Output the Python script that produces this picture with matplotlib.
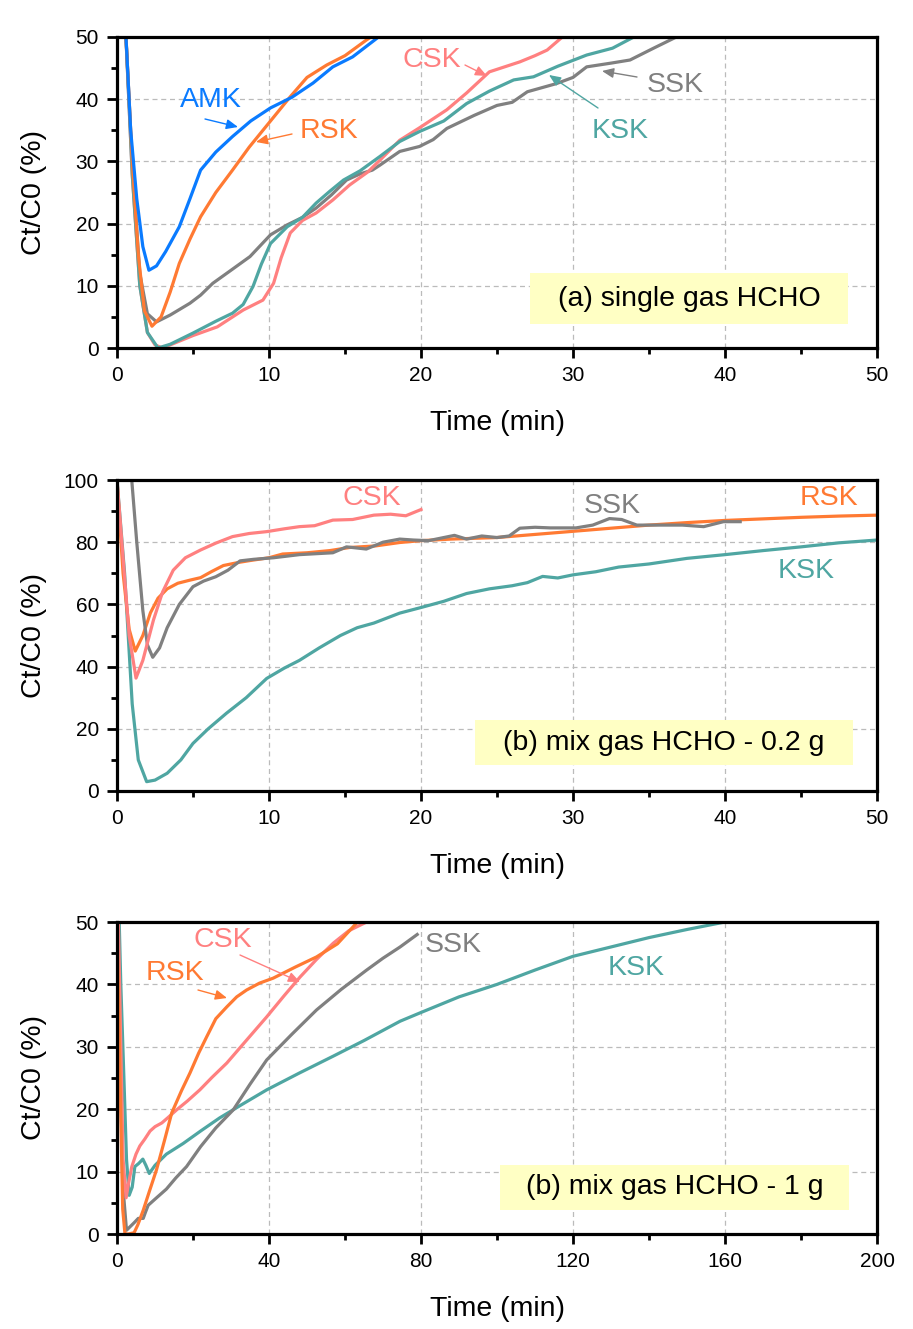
import numpy as np
import matplotlib
matplotlib.use("Agg")
import matplotlib.pyplot as plt
from matplotlib.ticker import MultipleLocator
from matplotlib.patches import Rectangle

plt.rcParams['font.family'] = ['Liberation Sans', 'DejaVu Sans']

# couleurs
c_amk = '#0A7BFF'
c_rsk = '#FF7A33'
c_csk = '#FF8080'
c_ssk = '#808080'
c_ksk = '#4FA6A2'

# (a) single gas HCHO
a_amk_x = [0.55, 0.9, 1.3, 1.7, 2.1, 2.6, 3.2, 4.1, 4.8, 5.5, 6.5, 7.6, 8.8, 10.1, 11.5, 12.9, 14.2, 15.5, 17.1, 17.6]
a_amk_y = [52, 35, 24, 16.3, 12.5, 13.2, 15.5, 19.5, 24, 28.6, 31.5, 34, 36.5, 38.6, 40.3, 42.6, 45.2, 46.8, 49.8, 51]
a_rsk_x = [0.55, 1.0, 1.4, 1.8, 2.3, 2.9, 3.5, 4.1, 4.8, 5.5, 6.5, 7.6, 8.7, 9.8, 11.4, 12.5, 13.8, 15, 16.4, 17.3]
a_rsk_y = [52, 30, 15, 6, 3.5, 5, 9, 13.6, 17.5, 21.1, 25, 28.6, 32.3, 35.6, 40.4, 43.5, 45.5, 47, 49.5, 51]
a_csk_x = [0.55, 1.0, 1.5, 2.0, 2.5, 3.0, 4.0, 5.0, 6.6, 8.3, 9.6, 10.3, 10.8, 11.4, 12.2, 13.1, 14.2, 15.3, 16.5,
           17.3, 18.6, 19.9, 21.7, 23, 24.5, 25.5, 26.5, 27.5, 28.3, 29.3, 29.6]
a_csk_y = [52, 28, 10, 2.5, 0.5, 0, 1, 2, 3.4, 6.1, 7.7, 10.4, 14.5, 18.5, 20.5, 21.7, 23.8, 26.2, 28.3,
           30.2, 33.4, 35.4, 38.3, 41, 44.4, 45.2, 46, 47, 47.9, 50, 51]
a_ksk_x = [0.55, 1.0, 1.5, 2.0, 2.7, 3.5, 5.0, 6.5, 7.6, 8.3, 8.95, 9.5, 10.1, 11.2, 12.2, 13.1, 14.0, 14.9, 16,
           17.3, 18.6, 19.9, 21.5, 23, 24.5, 26.1, 27.4, 29, 30.9, 32.6, 34, 34.3]
a_ksk_y = [52, 28, 10, 2.5, 0, 0.6, 2.4, 4.3, 5.6, 7, 9.9, 13.5, 16.8, 19.5, 21, 23.3, 25.2, 27, 28.5,
           30.8, 33.2, 34.8, 36.5, 39.3, 41.3, 43.1, 43.6, 45.3, 47.1, 48.2, 50, 51]
a_ssk_x = [0.55, 1.0, 1.5, 2.0, 2.6, 3.5, 4.8, 5.5, 6.3, 7.5, 8.75, 10.1, 11.2, 12.2, 13.1, 14.1, 15.1, 16, 16.8,
           17.3, 18.6, 19.9, 20.8, 21.7, 23.5, 25, 26, 27, 28.9, 30, 30.9, 32.5, 33.75, 35.3, 36.8, 37.2]
a_ssk_y = [52, 30, 12, 5.5, 4.2, 5.3, 7.2, 8.5, 10.4, 12.5, 14.7, 18.2, 19.8, 21, 22.5, 24.6, 27, 28, 28.6,
           29.4, 31.6, 32.4, 33.5, 35.3, 37.4, 39, 39.5, 41.2, 42.5, 43.5, 45.2, 45.8, 46.3, 48.2, 50, 51]

# (b) mix gas HCHO - 0.2 g
b_ksk_x = [0, 0.5, 1.0, 1.4, 1.95, 2.5, 3.3, 4.2, 5, 6, 7.2, 8.5, 9.85, 11, 12, 13.3, 14.7, 15.8, 16.9, 18.6,
           20, 21.5, 23, 24.5, 26, 27, 28, 29, 30, 31.5, 33, 35, 37.5, 40, 42.5, 45, 47.5, 50]
b_ksk_y = [100, 70, 28, 10, 3, 3.5, 5.7, 10, 15.3, 20, 25, 30, 36.2, 39.5, 42, 46, 50, 52.5, 54, 57.2,
           59, 61, 63.5, 65, 66, 67, 69, 68.5, 69.5, 70.5, 72, 73, 74.8, 76, 77.3, 78.5, 79.8, 80.7]
b_csk_x = [0, 0.4, 0.8, 1.25, 1.7, 2.4, 3.0, 3.7, 4.5, 5.5, 6.5, 7.6, 8.7, 9.85, 11, 12, 13, 14.2, 15.5, 16.9,
           18, 19, 20]
b_csk_y = [100, 75, 50, 36.3, 42, 55, 64, 71, 75, 77.5, 79.7, 81.8, 82.8, 83.4, 84.3, 85, 85.3, 87.1, 87.3, 88.7,
           89, 88.5, 90.5]
b_rsk_x = [0, 0.4, 0.8, 1.2, 1.7, 2.2, 2.7, 3.3, 4.0, 4.8, 5.5, 6.2, 7, 8, 8.75, 10, 10.9, 12.5, 14, 15.3, 17,
           18.6, 20, 22, 25, 27.5, 30, 32.5, 35, 37.5, 40, 42.5, 45, 47.5, 50]
b_rsk_y = [100, 70, 52, 45, 50, 57.3, 62, 65, 66.8, 67.8, 68.6, 70.5, 72.5, 73.5, 74.1, 75, 76.2, 76.6, 77.3, 78.3,
           78.8, 79.9, 80.5, 81, 81.5, 82.5, 83.5, 84.5, 85.5, 86.3, 87, 87.5, 88, 88.4, 88.7]
b_ssk_x = [0.97, 1.3, 1.7, 2.0, 2.35, 2.8, 3.3, 4.1, 5, 5.7, 6.5, 7.3, 8.1, 9, 10.3, 12, 14.2, 15.1, 16.4, 17.5,
           18.6, 19.5, 20.5, 21.5, 22.2, 23, 24, 25, 25.8, 26.5, 27.5, 28.5, 30.2, 31.3, 32.4, 33.2, 34.2, 35.5,
           37.2, 38.6, 39.9, 41]
b_ssk_y = [100, 80, 58, 47, 43, 46, 52.5, 60, 65.7, 67.5, 68.9, 71, 74, 74.5, 75, 76, 76.6, 78.5, 77.8, 80,
           81, 80.7, 80.5, 81.5, 82.2, 81, 82, 81.5, 82, 84.5, 84.8, 84.6, 84.6, 85.5, 87.6, 87.3, 85.5, 85.5,
           85.5, 85, 86.6, 86.6]

# (b) mix gas HCHO - 1 g
c_ksk_x = [0.5, 1.0, 1.8, 2.5, 3.2, 4.0, 4.7, 5.7, 6.8, 7.6, 8.5, 10, 13, 17.4, 22, 27, 33, 39.4, 48, 56.9,
           65, 74.5, 80, 90, 100, 110, 120, 130, 140, 150, 160, 162]
c_ksk_y = [52, 40, 25.3, 12, 6.2, 7.5, 10.8, 11.3, 12, 11, 9.7, 11, 12.8, 14.5, 16.5, 18.6, 20.8, 23.1, 25.8, 28.5,
           31, 34.1, 35.5, 38, 40, 42.3, 44.5, 46, 47.5, 48.8, 50, 50.2]
c_ssk_x = [0, 0.8, 1.5, 2.5, 3.5, 4.5, 5.6, 6.9, 7.5, 8.2, 10.4, 13, 15.5, 18.3, 22, 26, 30.6, 35, 39.4, 46,
           52.5, 59, 65.7, 70, 74.5, 79]
c_ssk_y = [50, 30, 8, 0.6, 1.2, 1.8, 2.5, 2.5, 3.5, 4.6, 5.8, 7.2, 9, 10.8, 14, 17, 19.9, 24, 27.9, 32,
           35.9, 39.2, 42.3, 44.2, 46, 48]
c_rsk_x = [0, 0.8, 1.5, 2.1, 3, 4.5, 5.5, 6.9, 8.5, 10.4, 12.5, 14.4, 17, 19.2, 21.5, 23.6, 26, 28.9, 31.5, 34.1,
           37.5, 41.1, 47, 52.5, 58, 63, 65.5]
c_rsk_y = [50, 25, 4, 0, 0, 0.2, 1.5, 3.8, 6.8, 10.3, 15, 19.4, 23, 25.8, 29, 31.6, 34.5, 36.4, 38, 39.1,
           40.2, 41, 42.8, 44.4, 46.5, 49.8, 51]
c_csk_x = [0.3, 1.0, 1.6, 2.4, 3.0, 3.9, 5, 6, 7.3, 8.7, 10, 11.8, 13.5, 15.7, 18.5, 21.8, 25, 28.9, 34, 39.4,
           44, 48.2, 52.5, 56.9, 61, 65.7, 67]
c_csk_y = [52, 30, 12, 5.8, 8, 10.8, 12.8, 14.1, 15.2, 16.5, 17.2, 17.8, 18.7, 19.9, 21.3, 23.1, 25.1, 27.4, 31, 34.8,
           38.2, 41.2, 44, 46.6, 48.6, 50, 50.6]

W, H = 913, 1329
fig = plt.figure(figsize=(W / 100, H / 100), dpi=100)

left = 117 / W
width = (877 - 117) / W
lw = 2.3
fs = 20.5


def make_axes(top_px, bot_px, xlim, ylim, xmaj, xmin, ymaj, ymin):
    ax = fig.add_axes([left, 1 - bot_px / H, width, (bot_px - top_px) / H])
    ax.set_xlim(*xlim)
    ax.set_ylim(*ylim)
    ax.xaxis.set_major_locator(MultipleLocator(xmaj))
    ax.xaxis.set_minor_locator(MultipleLocator(xmin))
    ax.yaxis.set_major_locator(MultipleLocator(ymaj))
    ax.yaxis.set_minor_locator(MultipleLocator(ymin))
    for s in ax.spines.values():
        s.set_linewidth(2.3)
    ax.tick_params(which='major', direction='out', length=7, width=2, labelsize=15, pad=6)
    ax.tick_params(which='minor', direction='out', length=4, width=2)
    ax.grid(True, which='major', linestyle=(0, (4, 3)), color='#BBBBBB', linewidth=0.9)
    ax.set_axisbelow(True)
    ax.set_xlabel('Time (min)', fontsize=fs, labelpad=18)
    ax.set_ylabel('Ct/C0 (%)', fontsize=fs)
    ax.yaxis.set_label_coords(-0.092, 0.5)
    return ax


def note(txt, col, xy_px, arrow=None):
    # positions en pixels de la figure
    x, y = xy_px
    fig.text(x / W, 1 - y / H, txt, color=col, fontsize=fs, ha='center', va='center')
    if arrow is not None:
        (x0, y0), (x1, y1) = arrow
        fig.add_artist(matplotlib.patches.FancyArrowPatch(
            (x0 / W, 1 - y0 / H), (x1 / W, 1 - y1 / H), transform=fig.transFigure,
            arrowstyle='-|>,head_length=7,head_width=3', mutation_scale=1,
            color=col, lw=1.0, shrinkA=0, shrinkB=0))


def box(txt, x0, y0, x1, y1):
    fig.add_artist(Rectangle((x0 / W, 1 - y1 / H), (x1 - x0) / W, (y1 - y0) / H,
                             transform=fig.transFigure, fc='#FFFFC4', ec='none', zorder=3))
    fig.text((x0 + x1) / 2 / W, 1 - (y0 + y1) / 2 / H, txt, fontsize=fs,
             ha='center', va='center', zorder=4)


# Panel (a)
ax1 = make_axes(37, 348, (0, 50), (0, 50), 10, 5, 10, 5)
ax1.plot(a_ssk_x, a_ssk_y, color=c_ssk, lw=lw)
ax1.plot(a_csk_x, a_csk_y, color=c_csk, lw=lw)
ax1.plot(a_ksk_x, a_ksk_y, color=c_ksk, lw=lw)
ax1.plot(a_rsk_x, a_rsk_y, color=c_rsk, lw=lw)
ax1.plot(a_amk_x, a_amk_y, color=c_amk, lw=lw)
note('AMK', c_amk, (211, 100), ((205, 119), (238, 127)))
note('RSK', c_rsk, (329, 131), ((292, 134), (256, 142)))
note('CSK', c_csk, (432, 60), ((465, 65), (487, 76)))
note('SSK', c_ssk, (675, 85), ((637, 77), (602, 71)))
note('KSK', c_ksk, (620, 131), ((598, 108), (549, 75)))
box('(a) single gas HCHO', 530, 273, 848, 324)

# Panel (b) 0.2 g
ax2 = make_axes(480, 791, (0, 50), (0, 100), 10, 5, 20, 10)
ax2.plot(b_ksk_x, b_ksk_y, color=c_ksk, lw=lw)
ax2.plot(b_rsk_x, b_rsk_y, color=c_rsk, lw=lw)
ax2.plot(b_ssk_x, b_ssk_y, color=c_ssk, lw=lw)
ax2.plot(b_csk_x, b_csk_y, color=c_csk, lw=lw)
note('CSK', c_csk, (372, 498))
note('SSK', c_ssk, (612, 506))
note('RSK', c_rsk, (829, 498))
note('KSK', c_ksk, (806, 571))
box('(b) mix gas HCHO - 0.2 g', 475, 720, 853, 765)

# Panel (b) 1 g
ax3 = make_axes(922, 1234, (0, 200), (0, 50), 40, 20, 10, 5)
ax3.plot(c_ksk_x, c_ksk_y, color=c_ksk, lw=lw)
ax3.plot(c_ssk_x, c_ssk_y, color=c_ssk, lw=lw)
ax3.plot(c_csk_x, c_csk_y, color=c_csk, lw=lw)
ax3.plot(c_rsk_x, c_rsk_y, color=c_rsk, lw=lw)
note('CSK', c_csk, (223, 940), ((240, 955), (300, 982)))
note('RSK', c_rsk, (175, 973), ((198, 990), (227, 998)))
note('SSK', c_ssk, (453, 945))
note('KSK', c_ksk, (636, 968))
box('(b) mix gas HCHO - 1 g', 500, 1165, 849, 1210)

fig.savefig('out.png', dpi=100)
